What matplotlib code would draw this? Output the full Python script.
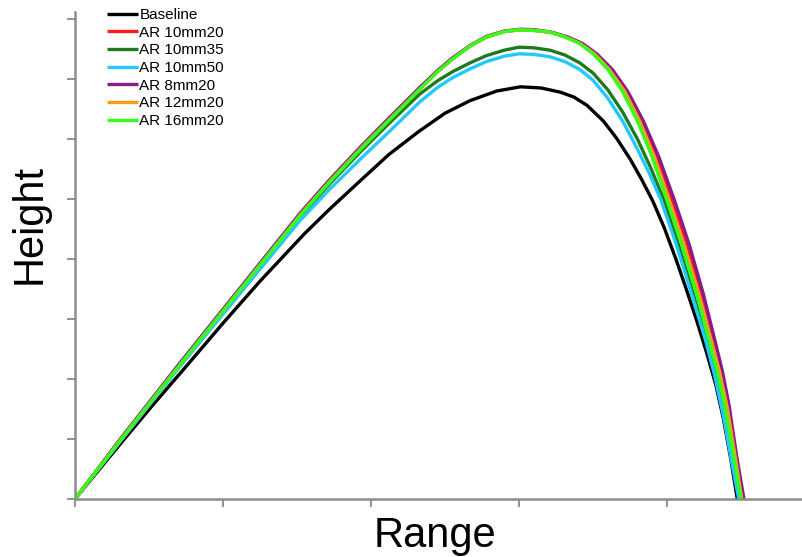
import matplotlib.pyplot as plt

plt.rcParams['font.family'] = ['Liberation Sans', 'DejaVu Sans']

# trajectories (x in x-tick units, y in y-tick units)
baseline_x = [0, 0.30, 0.52, 0.73, 1.00, 1.25, 1.55, 1.72, 1.93, 2.12, 2.32, 2.50, 2.67, 2.85, 3.01,
              3.15, 3.28, 3.37, 3.46, 3.57, 3.66, 3.75, 3.83, 3.905, 3.98, 4.06, 4.13, 4.20, 4.27,
              4.33, 4.38, 4.43, 4.475]
baseline_y = [0, 0.90, 1.55, 2.15, 2.93, 3.63, 4.42, 4.83, 5.31, 5.74, 6.12, 6.43, 6.64, 6.80, 6.87,
              6.85, 6.78, 6.70, 6.56, 6.30, 6.01, 5.67, 5.32, 4.96, 4.53, 4.00, 3.50, 2.98, 2.42,
              1.90, 1.35, 0.68, 0]

ar10_20_x = [0, 0.30, 0.71, 1.12, 1.52, 1.72, 1.93, 2.13, 2.33, 2.45, 2.55, 2.67, 2.78, 2.90,
             3.005, 3.105, 3.215, 3.32, 3.425, 3.515, 3.62, 3.725, 3.825, 3.93, 4.03, 4.13, 4.23,
             4.31, 4.37, 4.415, 4.465, 4.512]
ar10_20_y = [0, 0.97, 2.25, 3.51, 4.74, 5.30, 5.85, 6.35, 6.84, 7.13, 7.34, 7.55, 7.70, 7.79,
             7.82, 7.81, 7.78, 7.70, 7.59, 7.42, 7.16, 6.79, 6.30, 5.70, 4.98, 4.24, 3.42,
             2.68, 2.12, 1.55, 0.72, 0]

ar10_35_x = [0, 0.30, 0.71, 1.12, 1.52, 1.72, 1.93, 2.13, 2.33, 2.45, 2.55, 2.67, 2.78, 2.90,
             3.00, 3.10, 3.21, 3.31, 3.41, 3.50, 3.60, 3.70, 3.80, 3.89, 3.98, 4.08, 4.18, 4.27,
             4.33, 4.385, 4.44, 4.49]
ar10_35_y = [0, 0.95, 2.23, 3.48, 4.70, 5.25, 5.79, 6.28, 6.75, 6.97, 7.12, 7.27, 7.39, 7.48,
             7.53, 7.52, 7.48, 7.40, 7.27, 7.10, 6.82, 6.45, 6.00, 5.52, 4.98, 4.22, 3.40, 2.65,
             2.10, 1.45, 0.68, 0]

ar10_50_x = [0, 0.30, 0.71, 1.12, 1.52, 1.72, 1.93, 2.13, 2.33, 2.45, 2.55, 2.67, 2.78, 2.90,
             3.00, 3.10, 3.21, 3.31, 3.41, 3.50, 3.60, 3.70, 3.79, 3.88, 3.96, 4.06, 4.16, 4.26,
             4.32, 4.38, 4.435, 4.485]
ar10_50_y = [0, 0.94, 2.21, 3.44, 4.64, 5.16, 5.67, 6.14, 6.62, 6.86, 7.02, 7.17, 7.29, 7.38,
             7.42, 7.41, 7.37, 7.29, 7.16, 6.98, 6.68, 6.30, 5.88, 5.43, 4.98, 4.26, 3.47, 2.65,
             2.08, 1.40, 0.65, 0]

ar8_20_x = [0, 0.30, 0.71, 1.12, 1.52, 1.72, 1.93, 2.13, 2.33, 2.45, 2.55, 2.67, 2.78, 2.90,
            3.01, 3.11, 3.22, 3.33, 3.43, 3.525, 3.63, 3.735, 3.84, 3.945, 4.05, 4.15, 4.245,
            4.32, 4.375, 4.42, 4.47, 4.52]
ar8_20_y = [0, 0.98, 2.27, 3.53, 4.76, 5.32, 5.87, 6.37, 6.86, 7.14, 7.35, 7.56, 7.71, 7.80,
            7.83, 7.82, 7.78, 7.70, 7.59, 7.42, 7.16, 6.79, 6.30, 5.70, 4.98, 4.24, 3.42,
            2.68, 2.12, 1.55, 0.72, 0]

ar12_20_x = [0, 0.30, 0.71, 1.12, 1.52, 1.72, 1.93, 2.13, 2.33, 2.45, 2.55, 2.67, 2.78, 2.90,
             3.00, 3.10, 3.21, 3.315, 3.415, 3.51, 3.61, 3.715, 3.815, 3.915, 4.015, 4.115, 4.215,
             4.295, 4.355, 4.405, 4.46, 4.505]
ar12_20_y = [0, 0.96, 2.24, 3.50, 4.73, 5.29, 5.84, 6.34, 6.83, 7.12, 7.33, 7.55, 7.70, 7.79,
             7.82, 7.81, 7.78, 7.70, 7.59, 7.42, 7.16, 6.79, 6.30, 5.70, 4.98, 4.24, 3.42,
             2.68, 2.12, 1.55, 0.72, 0]

ar16_20_x = [0, 0.30, 0.71, 1.12, 1.52, 1.72, 1.93, 2.13, 2.33, 2.45, 2.55, 2.67, 2.78, 2.90,
             3.00, 3.10, 3.21, 3.31, 3.41, 3.50, 3.60, 3.70, 3.80, 3.90, 4.00, 4.10, 4.20,
             4.28, 4.34, 4.39, 4.45, 4.50]
ar16_20_y = [0, 0.96, 2.24, 3.50, 4.72, 5.28, 5.83, 6.33, 6.83, 7.12, 7.33, 7.55, 7.70, 7.79,
             7.82, 7.81, 7.78, 7.70, 7.59, 7.42, 7.16, 6.79, 6.30, 5.70, 4.98, 4.24, 3.42,
             2.68, 2.12, 1.55, 0.72, 0]

series = [
    ("Baseline", baseline_x, baseline_y, "#000000"),
    ("AR 10mm20", ar10_20_x, ar10_20_y, "#ff1a1a"),
    ("AR 10mm35", ar10_35_x, ar10_35_y, "#1f7a1f"),
    ("AR 10mm50", ar10_50_x, ar10_50_y, "#22c8ff"),
    ("AR 8mm20", ar8_20_x, ar8_20_y, "#8a1a8a"),
    ("AR 12mm20", ar12_20_x, ar12_20_y, "#ff9a1a"),
    ("AR 16mm20", ar16_20_x, ar16_20_y, "#33ff1a"),
]

W, H = 803, 557
fig = plt.figure(figsize=(W / 100, H / 100), dpi=100)
ax = fig.add_axes([75 / W, (H - 499) / H, (W - 75) / W, (499 - 12) / H])

for name, xs, ys, color in series:
    ax.plot(xs, ys, color=color, lw=2.4, label=name,
            solid_capstyle='butt', solid_joinstyle='round')

ax.set_xlim(0, (W - 75) / 148)
ax.set_ylim(0, 487 / 60)
ax.set_xticks([0, 1, 2, 3, 4])
ax.set_yticks(range(9))
ax.set_xticklabels([])
ax.set_yticklabels([])
ax.tick_params(direction='out', length=6, width=1.2, color='#7f7f7f')

for side in ('top', 'right'):
    ax.spines[side].set_visible(False)
for side in ('left', 'bottom'):
    ax.spines[side].set_color('#8c8c8c')
    ax.spines[side].set_linewidth(1.8)

ax.set_xlabel("Range", fontsize=30)
ax.xaxis.set_label_coords(0.495, -0.034)
ax.set_ylabel("Height", fontsize=30)
ax.yaxis.set_label_coords(-0.035, 0.565)

ax.legend(loc='upper left', bbox_to_anchor=(107 / W, 1 - 8 / H),
          bbox_transform=fig.transFigure, frameon=False, fontsize=11,
          handlelength=2.0, handletextpad=0.12, labelspacing=0.24,
          borderpad=0, borderaxespad=0)

fig.savefig("out.png", dpi=100)
